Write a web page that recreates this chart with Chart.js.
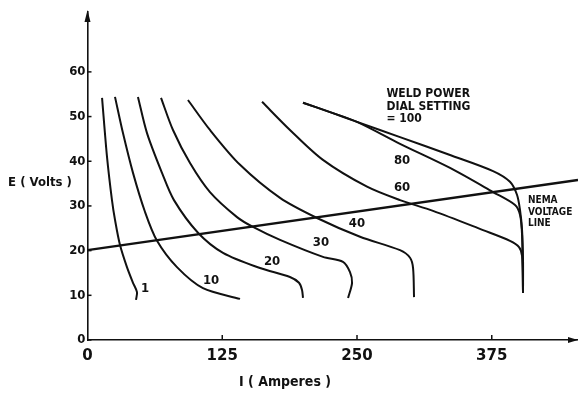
<!DOCTYPE html>
<html lang="en">
<head>
    <meta charset="UTF-8">
    <title>Weld power volt-ampere curves</title>
    <script src="https://cdn.jsdelivr.net/npm/chart.js"></script>
    <style>
        body {
            margin: 0;
            padding: 0;
            background: #fff;
        }
        .chart-container {
            position: relative;
            width: 578px;
            height: 400px;
        }
    </style>
</head>
<body>

    <div class="chart-container">
        <canvas id="weldChart" width="578" height="400"></canvas>
    </div>

    <script>
        // tick labels
        const xTicks = [0, 125, 250, 375];
        const yTicks = [0, 10, 20, 30, 40, 50, 60];

        // dial settings (curve labels)
        const dialSettings = ['1', '10', '20', '30', '40', '60', '80', '100'];

        // volt-ampere curves (I in amperes, E in volts)
        const dial1Amps = [13.5, 18.1, 22.7, 25.5, 30.1, 36.6, 42.2, 45.9, 45.0];
        const dial1Volts = [54.2, 41.0, 31.3, 26.9, 21.3, 16.3, 12.8, 10.7, 9.0];

        const dial10Amps = [25.5, 32.9, 42.2, 53.3, 64.5, 83.0, 107.1, 141.5];
        const dial10Volts = [54.4, 46.3, 37.4, 28.7, 22.2, 16.3, 11.6, 9.2];

        const dial20Amps = [46.8, 55.2, 69.1, 80.2, 102.5, 125.7, 160.0, 187.8, 196.2, 199.0, 199.9];
        const dial20Volts = [54.4, 46.3, 37.4, 31.3, 24.0, 19.5, 16.1, 14.1, 12.8, 11.2, 9.4];

        const dial30Amps = [68.2, 79.3, 95.1, 113.6, 138.7, 153.5, 178.6, 218.4, 237.0, 243.5, 245.4, 241.7];
        const dial30Volts = [54.2, 47.0, 39.6, 33.1, 27.5, 25.3, 22.4, 18.6, 17.5, 15.2, 12.8, 9.4];

        const dial40Amps = [93.2, 113.6, 141.5, 178.6, 212.9, 252.8, 289.9, 299.2, 302.0, 302.9];
        const dial40Volts = [53.7, 47.0, 39.2, 31.8, 27.3, 23.1, 20.1, 18.4, 16.1, 9.6];

        const dial60Amps = [161.9, 187.8, 218.4, 259.3, 289.9, 320.5, 366.9, 391.9, 400.3, 403.1, 404.0];
        const dial60Volts = [53.3, 47.0, 40.3, 34.3, 31.3, 28.9, 24.6, 22.2, 20.8, 18.8, 10.5];

        const dial80Amps = [199.9, 225.0, 250.0, 289.9, 336.3, 376.2, 396.6, 401.2, 403.1, 404.0];
        const dial80Volts = [53.1, 51.0, 48.8, 43.9, 38.5, 33.1, 30.2, 28.0, 23.5, 10.5];

        const dial100Amps = [199.9, 225.0, 250.0, 289.9, 336.3, 376.2, 391.9, 398.4, 401.2, 403.1, 404.0, 404.0];
        const dial100Volts = [53.1, 51.0, 48.8, 45.4, 41.4, 37.8, 35.4, 32.5, 29.1, 24.6, 17.9, 10.5];

        // NEMA voltage line
        const nemaAmps = [0, 455];
        const nemaVolts = [20.1, 35.8];

        const curveAmps = [dial1Amps, dial10Amps, dial20Amps, dial30Amps, dial40Amps, dial60Amps, dial80Amps, dial100Amps];
        const curveVolts = [dial1Volts, dial10Volts, dial20Volts, dial30Volts, dial40Volts, dial60Volts, dial80Volts, dial100Volts];

        const toPoints = (xs, ys) => xs.map((x, i) => ({ x: x, y: ys[i] }));

        const datasets = dialSettings.map((d, k) => ({
            label: 'Dial ' + d,
            data: toPoints(curveAmps[k], curveVolts[k]),
            showLine: true,
            borderColor: '#111',
            borderWidth: 2,
            pointRadius: 0,
            tension: 0.3
        }));
        datasets.push({
            label: 'NEMA voltage line',
            data: toPoints(nemaAmps, nemaVolts),
            showLine: true,
            borderColor: '#111',
            borderWidth: 2.4,
            pointRadius: 0,
            tension: 0
        });

        const condensed = "'DejaVu Sans Condensed', 'Liberation Sans Narrow', sans-serif";

        // text notes, ticks inside the axes and the arrow heads
        const decorations = {
            id: 'decorations',
            afterDraw(chart) {
                const ctx = chart.ctx;
                const xs = chart.scales.x;
                const ys = chart.scales.y;
                const area = chart.chartArea;
                ctx.save();
                ctx.strokeStyle = '#111';
                ctx.fillStyle = '#111';
                ctx.lineWidth = 1.5;

                // small ticks
                yTicks.forEach(v => {
                    const py = ys.getPixelForValue(v);
                    ctx.beginPath();
                    ctx.moveTo(area.left, py);
                    ctx.lineTo(area.left + 4, py);
                    ctx.stroke();
                });
                xTicks.slice(1).forEach(v => {
                    const px = xs.getPixelForValue(v);
                    ctx.beginPath();
                    ctx.moveTo(px, area.bottom);
                    ctx.lineTo(px, area.bottom - 5);
                    ctx.stroke();
                });

                // arrow heads
                ctx.beginPath();
                ctx.moveTo(area.left, area.top - 2);
                ctx.lineTo(area.left - 3, area.top + 10);
                ctx.lineTo(area.left + 3, area.top + 10);
                ctx.closePath();
                ctx.fill();
                ctx.beginPath();
                ctx.moveTo(area.right, area.bottom);
                ctx.lineTo(area.right - 10, area.bottom - 3);
                ctx.lineTo(area.right - 10, area.bottom + 3);
                ctx.closePath();
                ctx.fill();

                // curve labels
                const notes = [
                    { t: '1', i: 53.3, e: 11.6 },
                    { t: '10', i: 114.6, e: 13.2 },
                    { t: '20', i: 171.2, e: 17.5 },
                    { t: '30', i: 216.6, e: 21.7 },
                    { t: '40', i: 250.0, e: 26.0 },
                    { t: '60', i: 291.8, e: 34.0 },
                    { t: '80', i: 291.8, e: 40.1 }
                ];
                ctx.font = 'bold 13px ' + condensed;
                ctx.textAlign = 'center';
                ctx.textBaseline = 'middle';
                notes.forEach(n => {
                    ctx.fillText(n.t, xs.getPixelForValue(n.i), ys.getPixelForValue(n.e));
                });

                // dial setting title
                ctx.textAlign = 'left';
                ctx.textBaseline = 'alphabetic';
                ctx.font = 'bold 12px ' + condensed;
                const wx = xs.getPixelForValue(277.3);
                ctx.fillText('WELD POWER', wx, ys.getPixelForValue(54.4));
                ctx.fillText('DIAL SETTING', wx, ys.getPixelForValue(51.5));
                ctx.fillText('= ' + dialSettings[7], wx, ys.getPixelForValue(48.8));

                // NEMA note
                ctx.font = 'bold 10px ' + condensed;
                const nx = xs.getPixelForValue(408.6);
                ctx.fillText('NEMA', nx, ys.getPixelForValue(30.7));
                ctx.fillText('VOLTAGE', nx, ys.getPixelForValue(28.0));
                ctx.fillText('LINE', nx, ys.getPixelForValue(25.5));

                // axis titles
                ctx.textAlign = 'center';
                ctx.textBaseline = 'middle';
                ctx.font = 'bold 13px ' + condensed;
                ctx.fillText('E ( Volts )', 40, 183);
                ctx.font = 'bold 14px ' + condensed;
                ctx.fillText('I ( Amperes )', 285, 382);

                ctx.restore();
            }
        };

        const ctx = document.getElementById('weldChart').getContext('2d');
        const weldChart = new Chart(ctx, {
            type: 'scatter',
            data: { datasets: datasets },
            options: {
                responsive: false,
                animation: false,
                layout: {
                    padding: { top: 12, right: 0, bottom: 0, left: 0 }
                },
                scales: {
                    x: {
                        type: 'linear',
                        min: 0,
                        max: 455,
                        afterBuildTicks: scale => {
                            scale.ticks = xTicks.map(v => ({ value: v }));
                        },
                        afterFit: scale => {
                            scale.height = 60;
                        },
                        grid: { display: false, drawTicks: false },
                        border: { display: true, color: '#111', width: 1.6 },
                        ticks: {
                            padding: 7,
                            color: '#111',
                            font: { family: "'DejaVu Sans', sans-serif", size: 15, weight: 'bold' }
                        }
                    },
                    y: {
                        type: 'linear',
                        min: 0,
                        max: 73.4,
                        afterBuildTicks: scale => {
                            scale.ticks = yTicks.map(v => ({ value: v }));
                        },
                        afterFit: scale => {
                            scale.width = 87.5;
                        },
                        grid: { display: false, drawTicks: false },
                        border: { display: true, color: '#111', width: 1.6 },
                        ticks: {
                            padding: 2,
                            color: '#111',
                            font: { family: condensed, size: 13, weight: 'bold' }
                        }
                    }
                },
                plugins: {
                    legend: { display: false },
                    tooltip: { enabled: false }
                }
            },
            plugins: [decorations]
        });
    </script>
</body>
</html>
